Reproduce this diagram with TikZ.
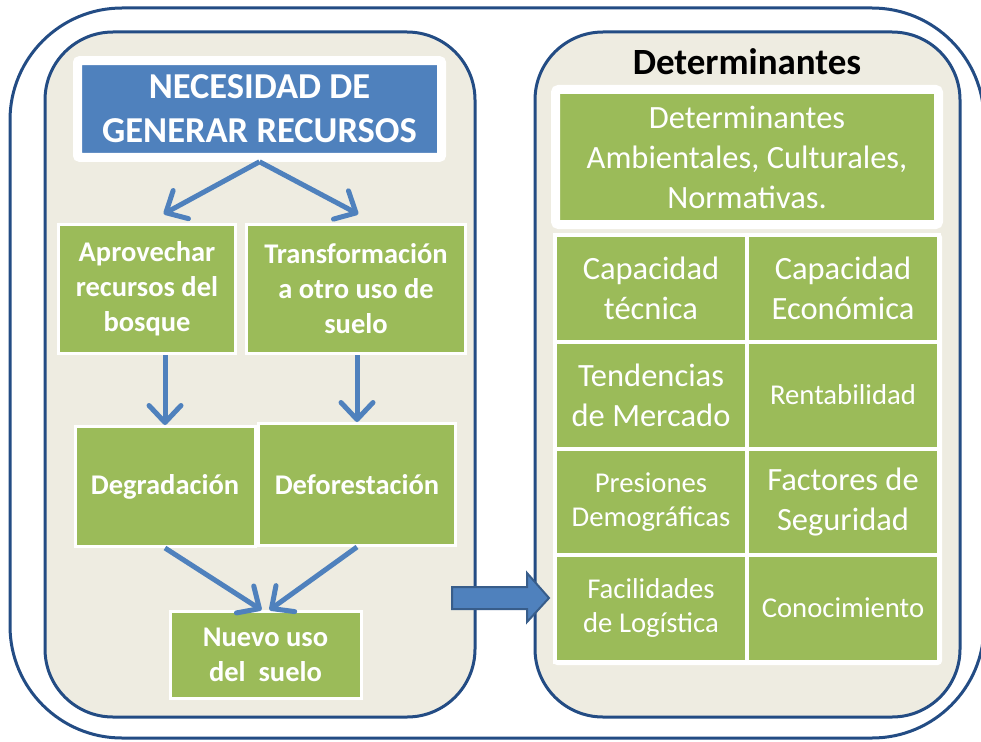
\documentclass[tikz,border=0pt]{standalone}
\usepackage{fontspec}
\setmainfont{Carlito}
\usepackage{tikz}
\usetikzlibrary{arrows.meta}
\definecolor{frameblue}{RGB}{35,76,132}
\definecolor{panelbg}{RGB}{238,236,225}
\definecolor{boxgreen}{RGB}{155,187,89}
\definecolor{headblue}{RGB}{79,129,189}
\definecolor{edgeblue}{RGB}{56,93,138}

\begin{document}
\begin{tikzpicture}[x=1pt, y=-1pt]
    % Define styles
    \tikzstyle{frame} = [draw=frameblue, line width=3pt, fill=white, rounded corners=112pt]
    \tikzstyle{panel} = [draw=frameblue, line width=3pt, fill=panelbg, rounded corners=68pt]
    \tikzstyle{headbox} = [rectangle, draw=white, line width=9pt, fill=headblue, rounded corners=2pt, inner sep=0pt, text=white, align=center, font=\fontsize{36.5}{44}\selectfont\bfseries]
    \tikzstyle{stepbox} = [rectangle, draw=white, line width=3pt, fill=boxgreen, inner sep=0pt, text=white, align=center, font=\fontsize{28.5}{35}\selectfont\bfseries]
    \tikzstyle{factorbox} = [rectangle, draw=white, line width=4pt, fill=boxgreen, inner sep=0pt, minimum width=192pt, minimum height=107pt, text=white, align=center, font=\fontsize{32.5}{40}\selectfont]
    \tikzstyle{small} = [font=\fontsize{28.7}{34}\selectfont]
    \tikzstyle{arrow} = [line width=5pt, draw=headblue, -{Straight Barb[round, length=17pt, width=32pt]}]
    \tikzstyle{blockarrow} = [draw=edgeblue, line width=2pt, fill=headblue, line join=miter]

    \useasboundingbox (0,0) rectangle (981,741);

    % Frames
    \draw [frame] (10,8) rectangle (984,738);
    \draw [panel] (45,32) rectangle (475,717);
    \draw [panel] (535,32) rectangle (960,717);
    \fill [white, rounded corners=4pt] (553,233) rectangle (942,665);

    % Nodes
    \node (title) [headbox, minimum width=364pt, minimum height=96.5pt] at (259.5,109) {NECESIDAD DE\\GENERAR RECURSOS};
    \node (aprov) [stepbox, minimum width=177pt, minimum height=129pt] at (147,289) {Aprovechar\\recursos del\\bosque};
    \node (transf) [stepbox, minimum width=219pt, minimum height=129pt] at (356,289) {Transformación\\a otro uso de\\suelo};
    \node (degr) [stepbox, minimum width=180pt, minimum height=120pt] at (165,486.5) {Degradación};
    \node (defor) [stepbox, minimum width=197pt, minimum height=122pt] at (357,484.5) {Deforestación};
    \node (nuevo) [stepbox, minimum width=191pt, minimum height=87pt] at (265.5,655) {Nuevo uso\\del\ \ suelo};

    \node (dettitle) [font=\fontsize{37}{37}\selectfont\bfseries] at (747,62) {Determinantes};
    \node (detbox) [factorbox, line width=9pt, minimum width=383pt, minimum height=135pt, rounded corners=3pt] at (747,157) {Determinantes\\Ambientales, Culturales,\\Normativas.};
    \node (tecnica) [factorbox] at (651,288) {Capacidad\\técnica};
    \node (economica) [factorbox] at (843,288) {Capacidad\\Económica};
    \node (mercado) [factorbox] at (651,395) {Tendencias\\de Mercado};
    \node (rentab) [factorbox, small] at (843,395) {Rentabilidad};
    \node (presiones) [factorbox, small] at (651,502) {Presiones\\Demográficas};
    \node (seguridad) [factorbox] at (843,502) {Factores de\\Seguridad};
    \node (logistica) [factorbox, small] at (651,608) {Facilidades\\de Logística};
    \node (conoc) [factorbox, small] at (843,608) {Conocimiento};

    % Arrows
    \draw [arrow, shorten >=19pt] (title.south) -- (aprov.north);
    \draw [arrow, shorten >=19pt] (title.south) -- ([xshift=19pt]transf.north);
    \draw [arrow] (aprov.south -| degr.north) -- (degr.north);
    \draw [arrow] (transf.south -| defor.north) -- (defor.north);
    \draw [arrow] (degr.south) -- ([xshift=-4pt]nuevo.north);
    \draw [arrow] (defor.south) -- ([xshift=4pt]nuevo.north);
    \draw [blockarrow] (452,587) -- (527,587) -- (527,573) -- (549,598) -- (527,622) -- (527,609) -- (452,609) -- cycle;
\end{tikzpicture}
\end{document}
